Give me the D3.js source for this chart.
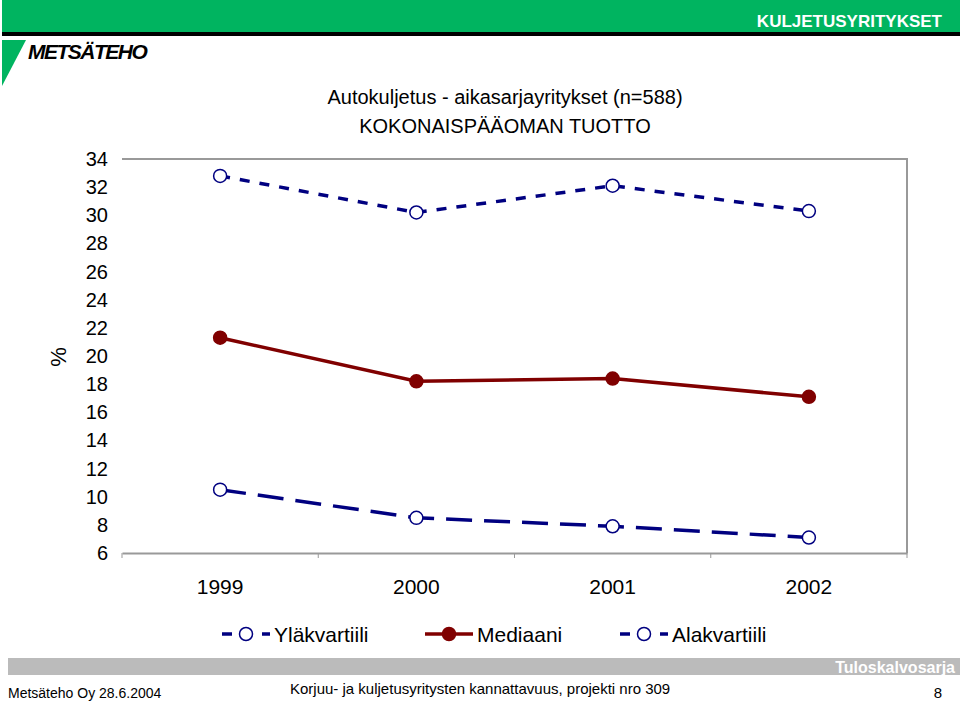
<!DOCTYPE html>
<html><head><meta charset="utf-8">
<script src="https://cdn.jsdelivr.net/npm/d3@7"></script>
<style>body{margin:0;background:#fff}svg{font-family:"Liberation Sans",Arial,sans-serif}</style>
</head><body>
<script>
const years = ["1999", "2000", "2001", "2002"]
const upper = [32.8, 30.2, 32.1, 30.3]
const median = [21.3, 18.2, 18.4, 17.1]
const lower = [10.5, 8.5, 7.9, 7.1]
const yTicks = [6, 8, 10, 12, 14, 16, 18, 20, 22, 24, 26, 28, 30, 32, 34]

const svg = d3.select("body").append("svg").attr("width", 960).attr("height", 705)

// header
svg.append("rect").attr("x", 2).attr("y", 0).attr("width", 958).attr("height", 32).attr("fill", "#00b460")
svg.append("rect").attr("x", 2).attr("y", 32).attr("width", 958).attr("height", 4).attr("fill", "#000")
svg.append("text").attr("x", 942).attr("y", 27).attr("text-anchor", "end").attr("fill", "#fff")
	.attr("font-weight", "bold").attr("font-size", 17).text("KULJETUSYRITYKSET")
svg.append("path").attr("d", "M2,40 L26,40 L2,86 Z").attr("fill", "#00b460")
svg.append("text").attr("x", 28).attr("y", 59).attr("font-weight", "bold").attr("font-size", 21)
	.attr("font-style", "italic").attr("letter-spacing", -1.5).text("METSÄTEHO")

svg.append("text").attr("x", 505).attr("y", 104).attr("text-anchor", "middle").attr("font-size", 20).text("Autokuljetus - aikasarjayritykset (n=588)")
svg.append("text").attr("x", 505).attr("y", 133).attr("text-anchor", "middle").attr("font-size", 20).text("KOKONAISPÄÄOMAN TUOTTO")

const m = {l: 122, r: 907, t: 159, b: 553}
const x = d3.scaleBand().domain(years).range([m.l, m.r])
const y = d3.scaleLinear().domain([6, 34]).range([m.b, m.t])
const cx = d => x(d) + x.bandwidth() / 2

svg.append("path").attr("d", `M${m.l},${m.t} H${m.r} V${m.b}`).attr("fill", "none").attr("stroke", "#999").attr("stroke-width", 2)
svg.append("g").attr("transform", `translate(0,${m.b})`)
	.call(d3.axisBottom(x).tickSize(0).tickFormat(""))
	.call(g => g.select(".domain").attr("stroke", "#999").attr("stroke-width", 2))
svg.append("g").selectAll("line").data(d3.range(5)).join("line")
	.attr("x1", i => m.l + i * x.step()).attr("x2", i => m.l + i * x.step())
	.attr("y1", m.b).attr("y2", m.b + 5).attr("stroke", "#999")
svg.append("g").selectAll("text").data(yTicks).join("text")
	.attr("x", 108).attr("y", d => y(d) + 7).attr("text-anchor", "end").attr("font-size", 20).text(d => d)
svg.append("g").selectAll("text").data(years).join("text")
	.attr("x", cx).attr("y", 594).attr("text-anchor", "middle").attr("font-size", 21).text(d => d)
svg.append("text").attr("transform", "translate(66,357) rotate(-90)").attr("text-anchor", "middle").attr("font-size", 22).text("%")

const navy = "#000080", red = "#800000"
const line = d3.line().x((d, i) => cx(years[i])).y(d => y(d))
const series = [
	{v: upper, c: navy, dash: "10,10", fill: "#fff"},
	{v: median, c: red, dash: null, fill: red},
	{v: lower, c: navy, dash: "26,12", fill: "#fff"}
]
series.forEach(s => {
	svg.append("path").datum(s.v).attr("d", line).attr("fill", "none").attr("stroke", s.c)
		.attr("stroke-width", 3.5).attr("stroke-dasharray", s.dash)
	svg.append("g").selectAll("circle").data(s.v).join("circle")
		.attr("cx", (d, i) => cx(years[i])).attr("cy", d => y(d)).attr("r", 6.5)
		.attr("fill", s.fill).attr("stroke", s.c).attr("stroke-width", 1.5)
})

// legend
const leg = [["Yläkvartiili", series[0]], ["Mediaani", series[1]], ["Alakvartiili", series[2]]]
const lx = [222, 425, 620]
leg.forEach(([name, s], i) => {
	const g = svg.append("g").attr("transform", `translate(${lx[i]},634)`)
	g.append("line").attr("x1", 0).attr("x2", 48).attr("stroke", s.c).attr("stroke-width", 3.5).attr("stroke-dasharray", s.dash ? "10,10" : null)
	g.append("circle").attr("cx", 24).attr("r", 6.5).attr("fill", s.fill).attr("stroke", s.c).attr("stroke-width", 1.5)
	g.append("text").attr("x", 52).attr("y", 8).attr("font-size", 21).text(name)
})

// footer
svg.append("rect").attr("x", 8).attr("y", 658).attr("width", 952).attr("height", 17).attr("fill", "#bbb")
svg.append("text").attr("x", 955).attr("y", 673).attr("text-anchor", "end").attr("fill", "#fff").attr("font-weight", "bold").attr("font-size", 16).text("Tuloskalvosarja")
svg.append("text").attr("x", 8).attr("y", 698).attr("font-size", 14).text("Metsäteho Oy 28.6.2004")
svg.append("text").attr("x", 290).attr("y", 694).attr("font-size", 15).text("Korjuu- ja kuljetusyritysten kannattavuus, projekti nro 309")
svg.append("text").attr("x", 942).attr("y", 698).attr("text-anchor", "end").attr("font-size", 15).text("8")
</script>
</body></html>
